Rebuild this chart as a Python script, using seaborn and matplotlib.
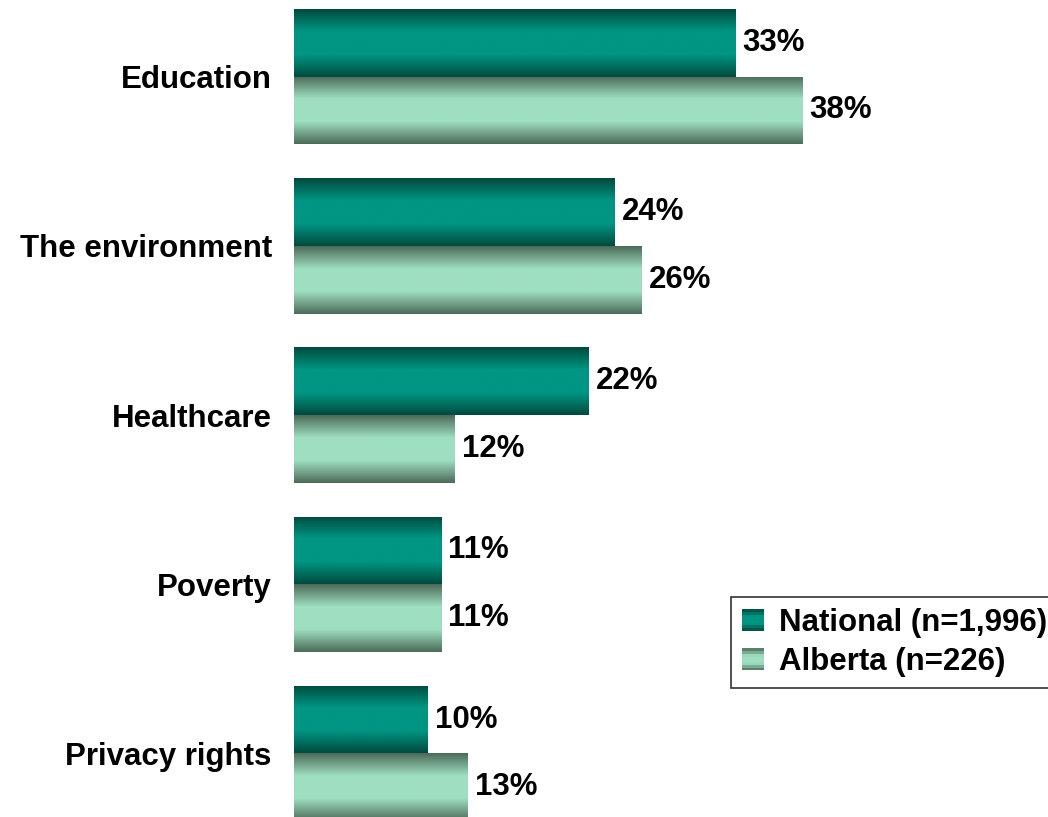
import matplotlib

matplotlib.use("Agg")
import matplotlib.pyplot as plt
import numpy as np
import pandas as pd
import seaborn as sns
from matplotlib.colors import LinearSegmentedColormap
from matplotlib.patches import Rectangle

categories = ["Education", "The environment", "Healthcare", "Poverty", "Privacy rights"]
national = [33, 24, 22, 11, 10]
alberta = [38, 26, 12, 11, 13]
series = ["National (n=1,996)", "Alberta (n=226)"]

# edge / centre colours of the vertical gradient on each bar
grad = {
    series[0]: ("#004a3e", "#009683"),
    series[1]: ("#4b6a58", "#9fdfc1"),
}

df = pd.DataFrame({
    "issue": categories * 2,
    "value": national + alberta,
    "group": [series[0]] * len(categories) + [series[1]] * len(categories),
})

sns.set_style("white")
plt.rcParams["font.family"] = ["Liberation Sans", "DejaVu Sans"]
plt.rcParams["text.color"] = "black"
plt.rcParams["ytick.color"] = "black"

fig = plt.figure(figsize=(10.48, 8.17), dpi=100)
ax = fig.add_axes([294 / 1048, 0, 1 - 294 / 1048, 1])

sns.barplot(data=df, x="value", y="issue", hue="group", order=categories,
            hue_order=series, palette=[grad[s][1] for s in series],
            width=0.8, ax=ax, legend=False, saturation=1)

ax.set_xlim(0, 56.4)
ax.set_ylim(4.376, -0.453)


def gradient_cmap(edge, centre):
    return LinearSegmentedColormap.from_list("g", [edge, centre, centre, edge],
                                             N=256)


n = len(categories)
vals = {series[0]: national, series[1]: alberta}
for k, s in enumerate(series):
    cmap = gradient_cmap(*grad[s])
    for i, patch in enumerate(ax.patches[k * n:(k + 1) * n]):
        x0, y0 = patch.get_x(), patch.get_y()
        w, h = patch.get_width(), patch.get_height()
        g = np.linspace(0, 1, 256).reshape(-1, 1)
        im = ax.imshow(g, cmap=cmap, aspect="auto", extent=(x0, x0 + w, y0 + h, y0),
                       interpolation="bilinear", zorder=2)
        im.set_clip_path(patch)
        ax.text(x0 + w + 0.55, y0 + h / 2, f"{vals[s][i]}%", va="center", ha="left",
                fontsize=22.5, fontweight="bold", zorder=3)

ax.set_xlabel("")
ax.set_ylabel("")
ax.set_xticks([])
ax.tick_params(axis="y", length=0, pad=16, labelsize=22.5)
for lab in ax.get_yticklabels():
    lab.set_fontweight("bold")
for sp in ax.spines.values():
    sp.set_visible(False)


class GradientHandler:
    """Legend key drawn as a small vertical-gradient square."""

    def __init__(self, edge, centre):
        self.cmap = gradient_cmap(edge, centre)

    def legend_artist(self, legend, orig_handle, fontsize, handlebox):
        x0, y0 = handlebox.xdescent, handlebox.ydescent
        w, h = handlebox.width, handlebox.height
        rows = 8
        for j in range(rows):
            c = self.cmap((j + 0.5) / rows)
            r = Rectangle((x0 - x0, y0 - y0 + h * j / rows), w, h / rows,
                          facecolor=c, edgecolor="none", transform=handlebox.get_transform())
            handlebox.add_artist(r)
        return r


handles = [Rectangle((0, 0), 1, 1, facecolor=grad[s][1]) for s in series]
leg = fig.legend(handles, series, loc="upper left", bbox_to_anchor=(731 / 1048, 1 - 597 / 817),
                 frameon=True, fancybox=False, edgecolor="black",
                 prop={"weight": "bold", "size": 22.5}, handlelength=0.7, handleheight=0.7,
                 handletextpad=0.5, borderpad=0.35, labelspacing=0.3, borderaxespad=0,
                 handler_map={handles[0]: GradientHandler(*grad[series[0]]),
                              handles[1]: GradientHandler(*grad[series[1]])})
leg.get_frame().set_linewidth(1.2)

fig.savefig("out.png", dpi=100)
